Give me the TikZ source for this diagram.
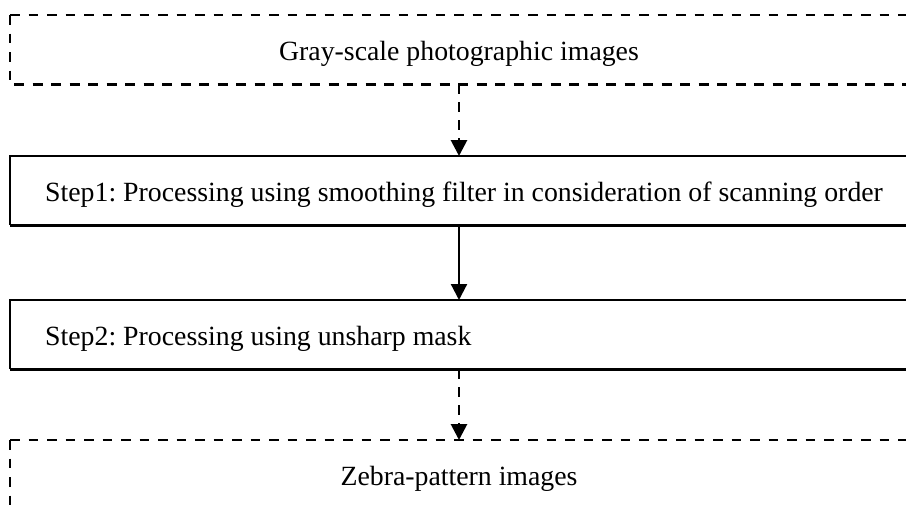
\documentclass[tikz,border=0pt]{standalone}
\usepackage{fontspec}
\setmainfont{Liberation Serif}
\usetikzlibrary{arrows.meta}

\tikzset{
  box/.style={minimum width=898pt, minimum height=69pt, inner sep=0pt, outer sep=0pt},
  label/.style={font=\fontsize{27.8pt}{30pt}\selectfont, inner sep=0pt},
  thinline/.style={line width=1.1pt},
  thinedge/.style={line width=1.1pt, dash pattern=on 9.5pt off 9pt},
  thickedge/.style={line width=3pt, dash pattern=on 10pt off 8.5pt, dash phase=14.5pt},
  heavyline/.style={line width=3pt},
  arrowdash/.style={line width=2.8pt, dash pattern=on 10pt off 8pt,
    -{Triangle[width=16pt,length=16pt]}},
  arrowsolid/.style={line width=2.2pt, -{Triangle[width=16pt,length=16pt]}},
}

\begin{document}
\frenchspacing
\begin{tikzpicture}[x=1pt,y=-1pt]
\useasboundingbox (0,0) rectangle (906,507);
\clip (0,0) rectangle (906,507);

% input images
\node[box] (src) at (459,49.5) {};
\node[label, anchor=base] (srct) at ([yshift=-10.5pt]src.center) {Gray-scale photographic images};
\draw[thinedge] (src.north west) -- (src.south west);
\draw[thinedge] (src.north west) -- (src.north east) -- (src.south east);
\draw[thickedge] (src.south west) -- (src.south east);

% step 1
\node[box] (s1) at (459,190.5) {};
\node[label, anchor=base west] (s1t) at ([xshift=35pt,yshift=-10.5pt]s1.west)
  {Step1: Processing using smoothing filter in consideration of scanning order};
\draw[thinline] (s1.south west) -- (s1.north west) -- (s1.north east) -- (s1.south east);
\draw[heavyline] (s1.south west) -- (s1.south east);

% step 2
\node[box] (s2) at (459,334.5) {};
\node[label, anchor=base west] (s2t) at ([xshift=35pt,yshift=-10.5pt]s2.west)
  {Step2: Processing using unsharp mask};
\draw[thinline] (s2.south west) -- (s2.north west) -- (s2.north east) -- (s2.south east);
\draw[heavyline] (s2.south west) -- (s2.south east);

% output images
\node[box] (dst) at (459,474.5) {};
\node[label, anchor=base] (dstt) at ([yshift=-10.5pt]dst.center) {Zebra-pattern images};
\draw[thinedge] (dst.north west) -- (dst.south west);
\draw[thinedge] (dst.north west) -- (dst.north east);

% connectors
\draw[arrowdash] (src.south) -- (s1.north);
\draw[arrowsolid] (s1.south) -- (s2.north);
\draw[arrowdash] (s2.south) -- (dst.north);
\end{tikzpicture}
\end{document}
